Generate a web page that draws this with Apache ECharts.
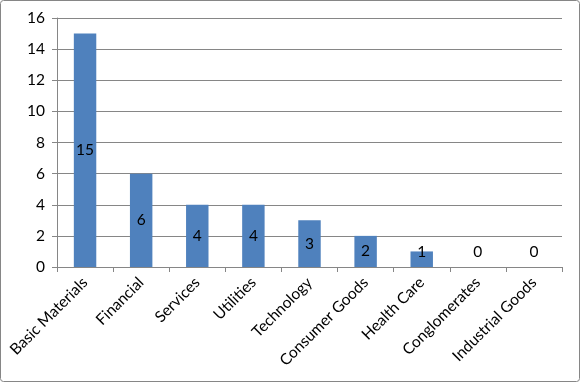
<!DOCTYPE html>
<html>
<head>
<meta charset="utf-8">
<script src="https://cdn.jsdelivr.net/npm/echarts@6/dist/echarts.min.js"></script>
<style>
html,body{margin:0;padding:0;background:#fff;}
#c{width:580px;height:382px;}
</style>
</head>
<body>
<div id="c"></div>
<script>
const categories = ['Basic Materials','Financial','Services','Utilities','Technology','Consumer Goods','Health Care','Conglomerates','Industrial Goods'];
const values = [15, 6, 4, 4, 3, 2, 1, 0, 0];
const yTicks = [0, 2, 4, 6, 8, 10, 12, 14, 16];

const FONT = 'Lato';
const chart = echarts.init(document.getElementById('c'), null, {renderer:'canvas'});
const seriesData = values.map(v => v < 2 ? {value: v, label: {position: 'insideBottom', distance: 7}} : v);

chart.setOption({
  animation: false,
  backgroundColor: '#fff',
  graphic: [{
    type: 'rect',
    shape: {x: 0.5, y: 0.5, width: 579, height: 381, r: 3},
    style: {fill: 'none', stroke: '#868686', lineWidth: 1},
    silent: true
  }],
  grid: {left: 57, right: 18, top: 18, bottom: 115, containLabel: false},
  xAxis: {
    type: 'category',
    data: categories,
    axisLine: {lineStyle: {color: '#868686'}},
    axisTick: {show: true, length: 5, lineStyle: {color: '#868686'}},
    axisLabel: {rotate: 45, margin: 13, color: '#000', fontFamily: FONT, fontSize: 15.5, interval: 0}
  },
  yAxis: {
    type: 'value',
    min: yTicks[0],
    max: yTicks[yTicks.length - 1],
    interval: 2,
    axisLine: {show: true, lineStyle: {color: '#868686'}},
    axisTick: {show: true, length: 5, lineStyle: {color: '#868686'}},
    splitLine: {lineStyle: {color: '#868686'}},
    axisLabel: {margin: 12, color: '#000', fontFamily: FONT, fontSize: 15.5}
  },
  series: [{
    type: 'bar',
    data: seriesData,
    barWidth: '40%',
    itemStyle: {color: '#4F81BD'},
    label: {show: true, position: 'inside', color: '#000', fontFamily: FONT, fontSize: 15.5}
  }]
});
</script>
</body>
</html>
